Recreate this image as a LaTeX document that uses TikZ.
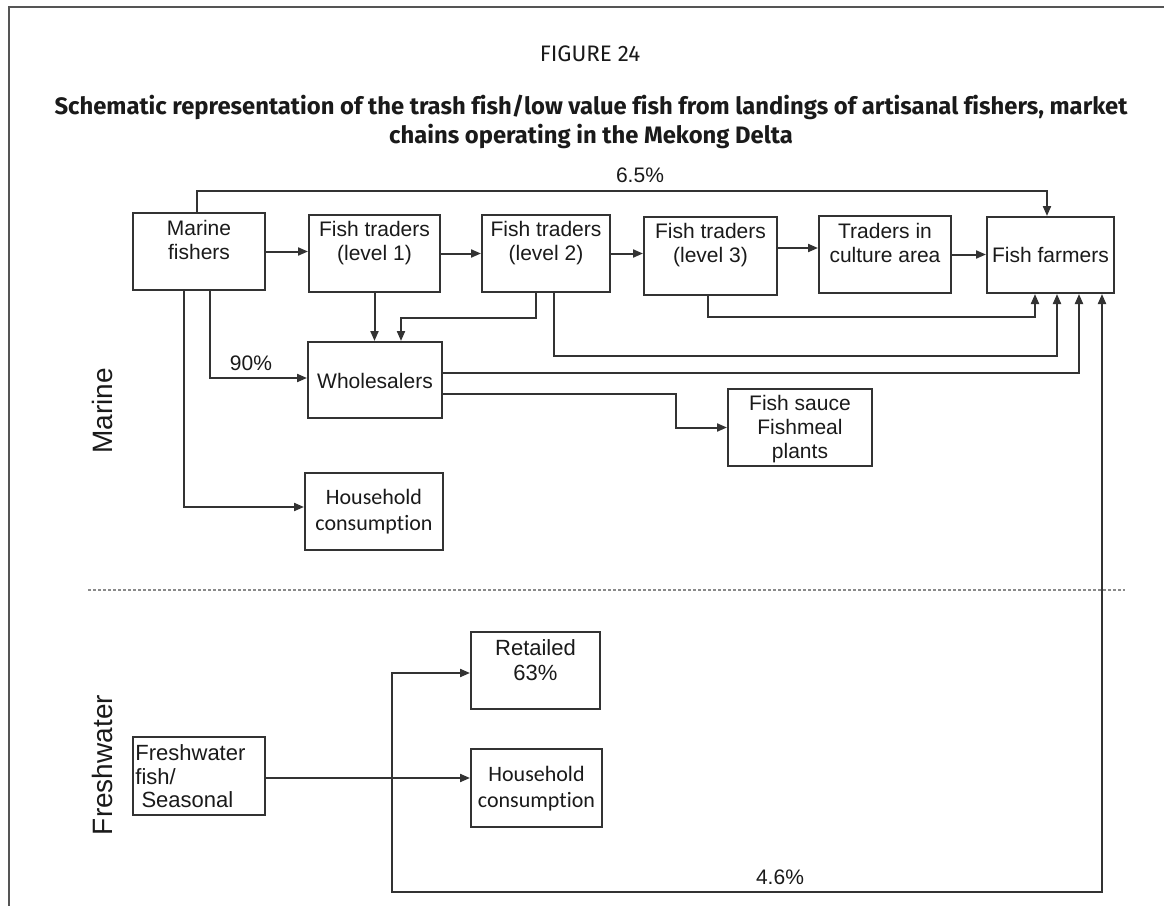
\documentclass[tikz,border=0pt]{standalone}
\usepackage{fontspec}
\setmainfont{Liberation Sans}
\newfontfamily\titlefont[Ligatures=NoCommon]{Fira Sans}
\newfontfamily\calfont[Ligatures=NoCommon]{Carlito}
\usetikzlibrary{arrows.meta}
\definecolor{linec}{HTML}{333333}
\definecolor{txtc}{HTML}{1A1A1A}
\definecolor{framec}{HTML}{555555}
\definecolor{dashc}{HTML}{8A8A8A}
\begin{document}
\begin{tikzpicture}[x=0.5pt,y=-0.5pt,
  box/.style={draw=linec, line width=1pt, inner sep=0pt},
  btxt/.style={text=txtc, align=center, inner sep=0pt, font=\fontsize{10.5}{12}\selectfont},
  ctxt/.style={text=txtc, align=center, inner sep=0pt, font=\calfont\fontsize{11}{13}\selectfont},
  conn/.style={draw=linec, line width=1pt},
  arr/.style={conn, -{Triangle[length=5pt,width=4pt]}},
  pct/.style={text=txtc, inner sep=0pt, font=\fontsize{10.5}{12}\selectfont},
  side/.style={text=txtc, inner sep=0pt, rotate=90, font=\fontsize{14}{16}\selectfont}
]
\useasboundingbox (0,0) rectangle (1164,906);
\fill[white] (0,0) rectangle (1164,906);
% frame
\draw[framec, line width=1pt] (9,906) -- (9,7) -- (1164,7);
% titles
\node[text=txtc, inner sep=0pt, font=\titlefont\fontsize{11.2}{13}\selectfont] (fig) at (590,54) {FIGURE 24};
\node[text=txtc, inner sep=0pt, align=center, font=\titlefont\bfseries\fontsize{11.9}{14.5}\selectfont] (title) at (591,122)
  {Schematic representation of the trash fish/low value fish from landings of artisanal fishers, market\\chains operating in the Mekong Delta};
% side labels
\node[side] (marine) at (102,411) {Marine};
\node[side] (fresh) at (102,765) {Freshwater};
% separator
\draw[dashc, line width=0.6pt, dash pattern=on 1.5pt off 1pt] (88,590) -- (1125,590);
% boxes
\node[box, minimum width=66pt, minimum height=38.5pt] (mf) at (199,251.5) {};
\node[btxt] (mft) at (199,240) {Marine\\fishers};
\node[box, minimum width=65.5pt, minimum height=38.5pt] (l1) at (374.5,253.5) {};
\node[btxt] (l1t) at (374.5,243) {Fish traders\\(level 1)};
\node[box, minimum width=64pt, minimum height=38.5pt] (l2) at (546,253.5) {};
\node[btxt] (l2t) at (546,243) {Fish traders\\(level 2)};
\node[box, minimum width=66.5pt, minimum height=39pt] (l3) at (710.5,256) {};
\node[btxt] (l3t) at (710.5,245) {Fish traders\\(level 3)};
\node[box, minimum width=66pt, minimum height=38.5pt] (tca) at (885,254.5) {};
\node[btxt] (tcat) at (885,243) {Traders in\\culture area};
\node[box, minimum width=63.5pt, minimum height=38pt] (ff) at (1050.5,255) {};
\node[btxt] (fft) at (1050.5,255) {Fish farmers};
\node[box, minimum width=67pt, minimum height=38pt] (w) at (375,380) {};
\node[btxt] (wt) at (375,381) {Wholesalers};
\node[box, minimum width=72pt, minimum height=38.5pt] (fs) at (800,427.5) {};
\node[btxt] (fst) at (800,429) {Fish sauce\\Fishmeal\\plants};
\node[box, minimum width=69pt, minimum height=38.5pt] (hh1) at (374,511.5) {};
\node[ctxt] (hh1t) at (374,512) {Household\\consumption};
\node[box, minimum width=64.5pt, minimum height=38.5pt] (ret) at (535.5,670.5) {};
\node[btxt, font=\fontsize{11}{12.5}\selectfont] (rett) at (535.5,660) {Retailed\\63\%};
\node[box, minimum width=66pt, minimum height=39pt] (fw) at (199,776) {};
\node[text=txtc, inner sep=0pt, align=left, anchor=west, font=\fontsize{11}{11.75}\selectfont] (fwt) at (135,776.5) {Freshwater\\fish/\\\ Seasonal};
\node[box, minimum width=65.5pt, minimum height=39pt] (hh2) at (536.5,788) {};
\node[ctxt] (hh2t) at (536.5,789) {Household\\consumption};
% routing points
\coordinate (top) at (600,191);
\coordinate (c2) at (450,318);
\coordinate (c3) at (800,317);
\coordinate (c4) at (800,356);
\coordinate (c5) at (676,410);
\coordinate (j) at (392,778);
\coordinate (c6) at (800,892);
% connectors
\draw[arr] ([xshift=-1pt]mf.north) |- (top) -| ([xshift=-1.75pt]ff.north);
\draw[arr] (mf.east) -- (mf.east -| l1.west);
\draw[arr] (l1.east) -- (l1.east -| l2.west);
\draw[arr] (l2.east) -- (l2.east -| l3.west);
\draw[arr] ([yshift=4pt]l3.east) -- ([yshift=4pt]l3.east -| tca.west);
\draw[arr] (tca.east) -- (tca.east -| ff.west);
\draw[arr] (l1.south) -- (l1.south |- w.north);
\draw[arr] ([xshift=-5pt]l2.south) |- (c2) -| ([xshift=13pt]w.north);
\draw[arr] ([xshift=5.5pt]mf.south) |- ([yshift=1pt]w.west);
\draw[arr] ([xshift=-7.5pt]mf.south) |- ([yshift=2.25pt]hh1.west);
\draw[arr] ([xshift=-1.25pt]l3.south) |- (c3) -| ([xshift=-7.75pt]ff.south);
\draw[arr] ([xshift=4pt]l2.south) |- (c4) -| ([xshift=3.25pt]ff.south);
\draw[arr] ([yshift=3.5pt]w.east) -| ([xshift=14.25pt]ff.south);
\draw[arr] ([yshift=-7pt]w.east) -| (c5) |- (fs.west);
\draw[arr] (fw.east |- j) -- (hh2.west |- j);
\draw[arr] (j) |- ([yshift=-1.25pt]ret.west);
\draw[arr] (j) |- (c6) -| ([xshift=25.75pt]ff.south);
% percentages
\node[pct] (p65) at (640,175) {6.5\%};
\node[pct] (p90) at (251,363) {90\%};
\node[pct] (p46) at (780,877) {4.6\%};
\end{tikzpicture}
\end{document}
